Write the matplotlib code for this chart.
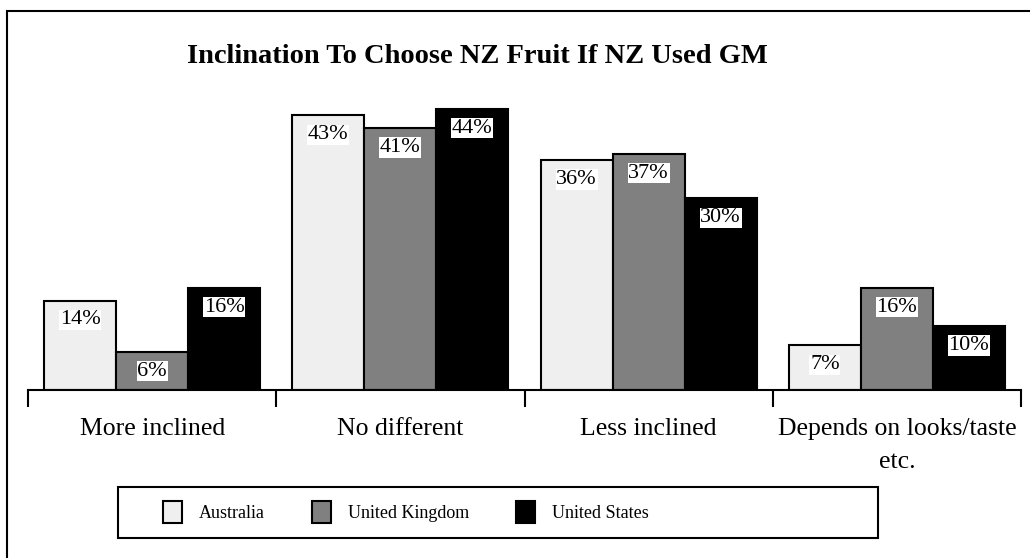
import numpy as np
import matplotlib.pyplot as plt
from matplotlib.patches import Rectangle, Patch

plt.rcParams['font.family'] = ['Liberation Serif', 'DejaVu Serif']

# data
categories = ['More inclined', 'No different', 'Less inclined', 'Depends on looks/taste\netc.']
countries = ['Australia', 'United Kingdom', 'United States']
australia = [14, 43, 36, 7]
united_kingdom = [6, 41, 37, 16]
united_states = [16, 44, 30, 10]
colors = ['#efefef', '#808080', '#000000']

W, H = 1030, 558
fig = plt.figure(figsize=(W / 100, H / 100), dpi=100)

# outer frame (runs off the right/bottom edge in the original)
fig.patches.append(Rectangle((7 / W, -0.1), 1.2, 1 - 11 / H + 0.1, transform=fig.transFigure,
                             fill=False, edgecolor='black', linewidth=1.5))

ax = fig.add_axes([28 / W, 1 - 390 / H, (1021 - 28) / W, (390 - 80) / H])
x = np.arange(len(categories))
width = 0.29
series = [australia, united_kingdom, united_states]
for i, (vals, c) in enumerate(zip(series, colors)):
    bars = ax.bar(x + (i - 1) * width, vals, width, color=c, edgecolor='black', linewidth=1.5, zorder=2)
    for b, v in zip(bars, vals):
        ax.annotate(f'{v}%', (b.get_x() + b.get_width() / 2, v), xytext=(0, -14),
                    textcoords='offset points', ha='center', va='center', fontsize=16,
                    bbox=dict(facecolor='white', edgecolor='none', pad=0.5), zorder=3)

ax.set_xlim(-0.5, len(categories) - 0.5)
ax.set_ylim(0, 310 / 6.39)
for s in ['top', 'left', 'right']:
    ax.spines[s].set_visible(False)
ax.spines['bottom'].set_linewidth(1.5)
ax.set_yticks([])
ax.set_xticks(x)
ax.set_xticklabels(categories, fontsize=18.5, linespacing=1.6)
ax.tick_params(axis='x', which='major', length=0, pad=20.5)
ax.set_xticks(np.arange(len(categories) + 1) - 0.5, minor=True)
ax.tick_params(axis='x', which='minor', length=12, width=1.5, direction='out')

fig.text(477 / W, 1 - 56 / H, 'Inclination To Choose NZ Fruit If NZ Used GM',
         ha='center', va='center', fontsize=20.5, fontweight='bold')

# legend box
fig.patches.append(Rectangle((118 / W, 1 - 538 / H), (878 - 118) / W, 51 / H, transform=fig.transFigure,
                             fill=False, edgecolor='black', linewidth=1.5))
handles = [Patch(facecolor=c, edgecolor='black', linewidth=1.5) for c in colors]
fig.legend(handles, countries, loc='center left', bbox_to_anchor=(163 / W, 1 - 512 / H),
           ncol=3, frameon=False, fontsize=13, handlelength=1.05, handleheight=1.55,
           handletextpad=0.95, columnspacing=2.6, borderpad=0, borderaxespad=0)

fig.savefig('out.png', dpi=100)
